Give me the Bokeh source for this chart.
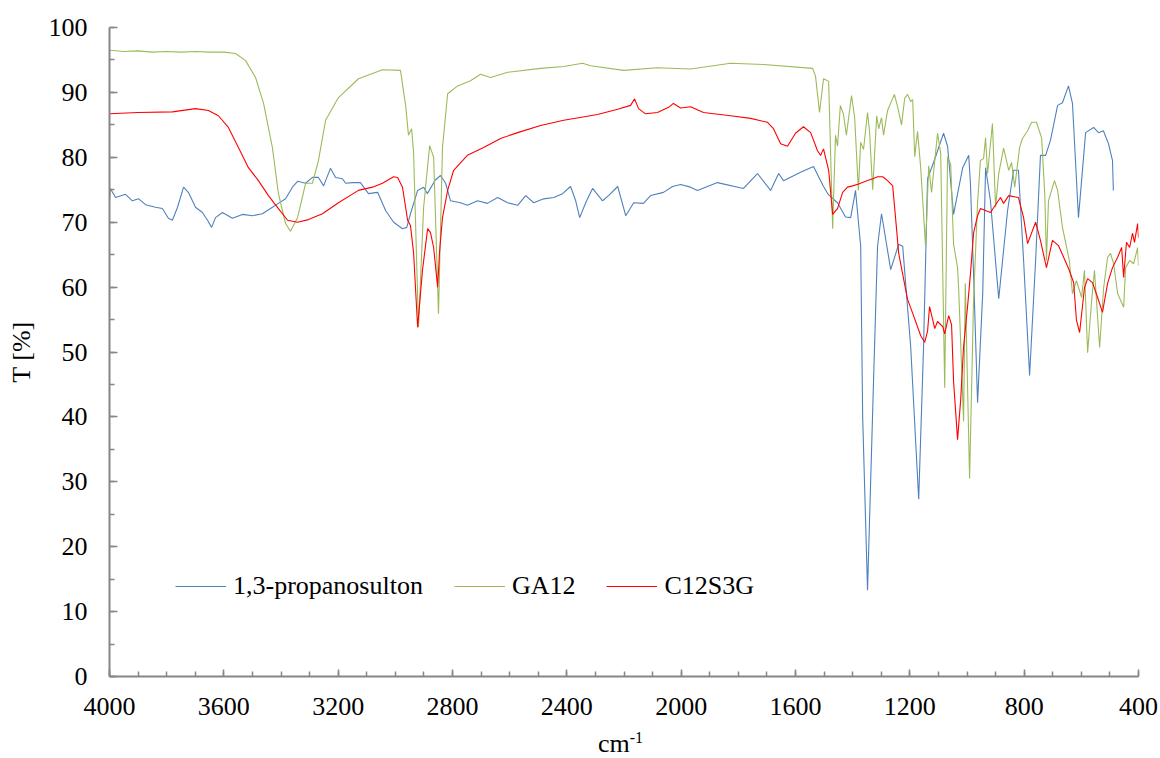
from bokeh.plotting import figure
from bokeh.models import Range1d, SingleIntervalTicker, Div
from bokeh.layouts import column
from bokeh.embed import file_html
from bokeh.resources import INLINE

# ---- data (wavenumber cm-1, transmittance %) ----
sulton_wn = [4000, 3997, 3979, 3944, 3920, 3898, 3874, 3839, 3815, 3794, 3780, 3762, 3741, 3724,
             3699, 3675, 3657, 3643, 3629, 3605, 3570, 3535, 3500, 3465, 3430, 3409, 3384, 3360,
             3342, 3314, 3290, 3269, 3251, 3227, 3209, 3185, 3174, 3150, 3122, 3094, 3062, 3034,
             3006, 2975, 2960, 2947, 2922, 2901, 2888, 2860, 2842, 2824, 2807, 2772, 2748, 2712,
             2678, 2642, 2607, 2572, 2544, 2516, 2481, 2446, 2415, 2387, 2369, 2355, 2334, 2310,
             2275, 2254, 2222, 2194, 2166, 2132, 2107, 2062, 2030, 2002, 1967, 1943, 1873, 1782,
             1733, 1687, 1659, 1642, 1582, 1547, 1537, 1502, 1484, 1453, 1425, 1407, 1390, 1372,
             1365, 1348, 1327, 1313, 1299, 1267, 1239, 1225, 1197, 1169, 1152, 1138, 1117, 1082,
             1068, 1047, 1015, 994, 988, 977, 963, 945, 935, 918, 889, 858, 837, 820, 802, 781,
             760, 743, 725, 708, 683, 666, 645, 631, 610, 585, 557, 540, 523, 505, 491, 488]
sulton_t = [73.3, 75.2, 73.8, 74.3, 73.3, 73.6, 72.7, 72.3, 72.1, 70.6, 70.3, 72.3, 75.4, 74.6,
            72.3, 71.5, 70.3, 69.2, 70.7, 71.5, 70.6, 71.2, 71.0, 71.3, 72.3, 72.9, 73.6, 75.4,
            76.3, 76.0, 76.9, 76.9, 75.6, 78.3, 76.9, 76.7, 76.0, 76.1, 76.1, 74.4, 74.6, 71.8,
            70.0, 69.0, 69.2, 71.3, 74.9, 75.4, 74.4, 76.5, 77.2, 76.0, 73.3, 73.0, 72.6, 73.3,
            72.9, 73.8, 73.0, 72.6, 74.1, 73.0, 73.6, 73.8, 74.4, 75.5, 73.3, 70.7, 73.0, 75.2,
            73.3, 74.1, 75.5, 71.0, 73.0, 72.9, 74.1, 74.6, 75.5, 75.8, 75.4, 74.9, 76.1, 75.2,
            77.5, 74.9, 77.5, 76.4, 77.7, 78.4, 78.6, 75.5, 74.2, 73.0, 70.8, 70.7, 74.9, 66.3,
            40.0, 13.3, 45.5, 66.3, 71.3, 62.7, 66.6, 66.3, 50.8, 27.3, 50.8, 76.7, 79.2, 83.7,
            81.7, 71.2, 78.4, 80.3, 76.0, 62.0, 42.2, 59.0, 78.4, 73.3, 58.2, 71.8, 78.0, 78.0,
            64.1, 46.4, 64.1, 80.3, 80.3, 82.6, 88.0, 88.4, 91.0, 88.3, 70.7, 83.8, 84.6, 83.8,
            84.1, 82.1, 79.5, 74.9]

ga12_wn = [4000, 3950, 3900, 3850, 3800, 3750, 3700, 3650, 3600, 3559, 3524, 3489, 3461, 3430,
           3409, 3384, 3367, 3342, 3314, 3290, 3269, 3244, 3199, 3129, 3045, 2982, 2964, 2954,
           2943, 2936, 2919, 2901, 2880, 2866, 2849, 2835, 2817, 2782, 2737, 2702, 2667, 2607,
           2492, 2411, 2345, 2317, 2201, 2083, 1967, 1827, 1712, 1540, 1530, 1516, 1502, 1484,
           1470, 1460, 1453, 1443, 1432, 1422, 1404, 1393, 1380, 1372, 1362, 1348, 1341, 1330,
           1316, 1309, 1299, 1292, 1278, 1254, 1243, 1229, 1218, 1208, 1197, 1190, 1183, 1173,
           1162, 1145, 1134, 1124, 1117, 1103, 1092, 1078, 1068, 1057, 1047, 1033, 1029, 1012,
           1006, 991, 977, 963, 953, 942, 935, 928, 911, 900, 889, 872, 854, 844, 833, 816, 806,
           788, 774, 757, 739, 728, 722, 715, 694, 683, 666, 642, 631, 617, 599, 589, 578, 564,
           554, 536, 522, 508, 498, 487, 473, 452, 445, 431, 417, 403, 400]
ga12_t = [96.5, 96.3, 96.4, 96.2, 96.3, 96.2, 96.3, 96.2, 96.2, 96.0, 94.9, 92.3, 88.3, 81.5,
          74.4, 69.8, 68.6, 70.7, 76.0, 76.0, 79.5, 85.7, 89.2, 92.1, 93.5, 93.4, 88.0, 83.4,
          84.4, 80.6, 53.8, 72.3, 81.8, 80.0, 55.9, 81.5, 89.8, 91.0, 91.8, 92.8, 92.3, 93.1,
          93.7, 94.0, 94.5, 94.1, 93.4, 93.8, 93.6, 94.5, 94.3, 93.7, 92.5, 86.9, 92.1, 91.7,
          69.0, 83.4, 81.7, 88.0, 86.6, 83.4, 89.5, 86.1, 74.9, 82.3, 81.2, 86.9, 84.0, 75.0,
          86.4, 84.4, 86.1, 83.4, 87.2, 89.7, 87.8, 85.0, 89.1, 89.7, 88.6, 88.9, 80.1, 84.0,
          78.4, 66.3, 78.7, 74.6, 77.7, 83.7, 80.6, 44.5, 80.1, 78.9, 66.6, 63.0, 59.6, 39.3,
          60.6, 30.5, 58.0, 73.0, 79.5, 79.8, 83.0, 77.5, 85.2, 72.3, 77.5, 81.4, 78.0, 79.2,
          75.4, 81.5, 82.9, 84.1, 85.4, 85.4, 83.0, 74.4, 64.1, 73.3, 76.4, 74.9, 69.2, 64.1,
          59.0, 61.0, 58.4, 62.6, 49.9, 57.9, 62.6, 50.7, 59.9, 64.6, 65.2, 63.6, 59.0, 56.9,
          63.0, 64.1, 63.6, 66.1, 63.3]

c12s3g_wn = [4000, 3900, 3780, 3699, 3654, 3619, 3584, 3549, 3514, 3479, 3444, 3409, 3377, 3342,
             3304, 3255, 3199, 3129, 3080, 3045, 3006, 2992, 2975, 2957, 2947, 2936, 2922, 2905,
             2887, 2877, 2866, 2852, 2845, 2835, 2817, 2796, 2748, 2691, 2632, 2572, 2492, 2411,
             2359, 2293, 2222, 2177, 2163, 2149, 2125, 2083, 2044, 2027, 2002, 1967, 1922, 1827,
             1757, 1698, 1677, 1652, 1628, 1600, 1572, 1547, 1523, 1512, 1502, 1484, 1470, 1453,
             1435, 1418, 1400, 1379, 1355, 1330, 1313, 1295, 1278, 1260, 1250, 1239, 1222, 1208,
             1187, 1162, 1148, 1138, 1131, 1120, 1113, 1103, 1085, 1078, 1064, 1054, 1047, 1033,
             1022, 1012, 998, 988, 977, 963, 953, 918, 883, 872, 854, 820, 802, 788, 760, 743,
             722, 701, 680, 645, 627, 617, 606, 589, 578, 561, 543, 526, 508, 491, 473, 459, 452,
             442, 431, 421, 414, 403, 400]
c12s3g_t = [86.7, 86.9, 87.0, 87.5, 87.2, 86.4, 84.6, 81.5, 78.4, 76.4, 74.1, 72.1, 70.3, 70.0,
            70.4, 71.3, 73.0, 74.9, 75.4, 76.0, 77.0, 76.9, 75.4, 70.3, 69.5, 65.2, 53.8, 62.6,
            69.0, 68.4, 66.1, 60.0, 65.6, 70.7, 74.9, 78.0, 80.3, 81.5, 82.9, 83.8, 84.9, 85.7,
            86.1, 86.6, 87.4, 88.0, 89.0, 87.5, 86.7, 86.9, 87.7, 88.3, 87.6, 87.8, 86.9, 86.4,
            86.0, 85.4, 84.4, 82.1, 81.7, 83.7, 84.7, 83.8, 81.0, 80.3, 81.3, 78.0, 71.2, 72.1,
            74.6, 75.4, 75.6, 75.9, 76.3, 76.7, 77.0, 77.0, 76.4, 75.6, 70.7, 65.2, 61.3, 58.1,
            55.6, 52.5, 51.5, 53.2, 57.0, 55.0, 53.6, 54.7, 53.9, 52.8, 55.6, 54.2, 45.5, 36.5,
            42.7, 50.8, 57.0, 62.0, 68.3, 71.0, 72.1, 71.5, 73.8, 72.9, 74.1, 73.8, 70.7, 66.7,
            70.0, 67.2, 63.0, 67.2, 66.4, 62.9, 60.7, 54.9, 53.0, 59.9, 61.3, 60.7, 58.4, 56.1,
            60.6, 63.0, 64.6, 66.1, 61.5, 66.9, 66.1, 68.3, 66.9, 69.8, 67.6]

series_names = ["1,3-propanosulton", "GA12", "C12S3G"]
series_colors = ["#4F81BD", "#9BBB59", "#FF0000"]
x_title = "cm"
x_title_sup = "-1"
y_title = "T [%]"

FONT = "Liberation Serif"
AXIS_GREY = "#868686"

W = 1160
MAIN_H = 734      # main figure: plot frame + tick labels
TITLE_H = 24      # strip below holding the x-axis title

p = figure(width=W, height=MAIN_H, output_backend="svg", toolbar_location=None,
           x_range=Range1d(4000, 400), y_range=Range1d(0, 100),
           min_border_left=109, min_border_right=22, min_border_top=27,
           min_border_bottom=MAIN_H - 676)
p.outline_line_color = None
p.grid.visible = False
p.background_fill_color = "white"
p.border_fill_color = "white"

for wn, tv, name, col in zip([sulton_wn, ga12_wn, c12s3g_wn], [sulton_t, ga12_t, c12s3g_t],
                             series_names, series_colors):
    p.line(wn, tv, line_color=col, line_width=1.1, legend_label=name)

p.xaxis.ticker = SingleIntervalTicker(interval=400, num_minor_ticks=4)
p.yaxis.ticker = SingleIntervalTicker(interval=10, num_minor_ticks=2)

for ax in (p.xaxis[0], p.yaxis[0]):
    ax.axis_line_color = AXIS_GREY
    ax.axis_line_width = 2
    ax.major_tick_line_color = AXIS_GREY
    ax.minor_tick_line_color = AXIS_GREY
    ax.major_tick_line_width = 1.5
    ax.minor_tick_line_width = 1.5
    ax.major_tick_in = 8
    ax.major_tick_out = 0
    ax.minor_tick_in = 5
    ax.minor_tick_out = 0
    ax.major_label_text_font = FONT
    ax.major_label_text_font_size = "26px"
    ax.major_label_text_color = "black"
    ax.axis_label_text_font = FONT
    ax.axis_label_text_font_size = "26px"
    ax.axis_label_text_font_style = "normal"
    ax.axis_label_text_color = "black"

p.xaxis.major_tick_in = 7
p.xaxis.major_label_standoff = 21
p.yaxis.major_label_standoff = 22
p.yaxis.axis_label = y_title
p.yaxis.axis_label_standoff = 10

lg = p.legend[0]
lg.orientation = "horizontal"
lg.location = (66, 75)
lg.label_text_font = FONT
lg.label_text_font_size = "26px"
lg.label_text_color = "black"
lg.glyph_width = 51
lg.label_standoff = 7
lg.spacing = 31
lg.padding = 0
lg.margin = 0
lg.border_line_color = None
lg.background_fill_alpha = 0

# x-axis title (cm^-1) as real text in a strip below the plot
title_html = (
    '<div style="position:absolute; left:598px; top:-2px; white-space:nowrap; '
    "font-family:'Liberation Serif', serif; font-size:26px; line-height:24px; color:black;\">"
    f'{x_title}<span style="font-size:16px; position:relative; top:-9px;">{x_title_sup}</span>'
    '</div>'
)
xt = Div(text=title_html, width=W, height=TITLE_H, margin=0,
         styles={"overflow": "visible", "position": "relative"})

layout = column(p, xt, spacing=0)
open("out.html", "w").write(file_html(layout, INLINE))
